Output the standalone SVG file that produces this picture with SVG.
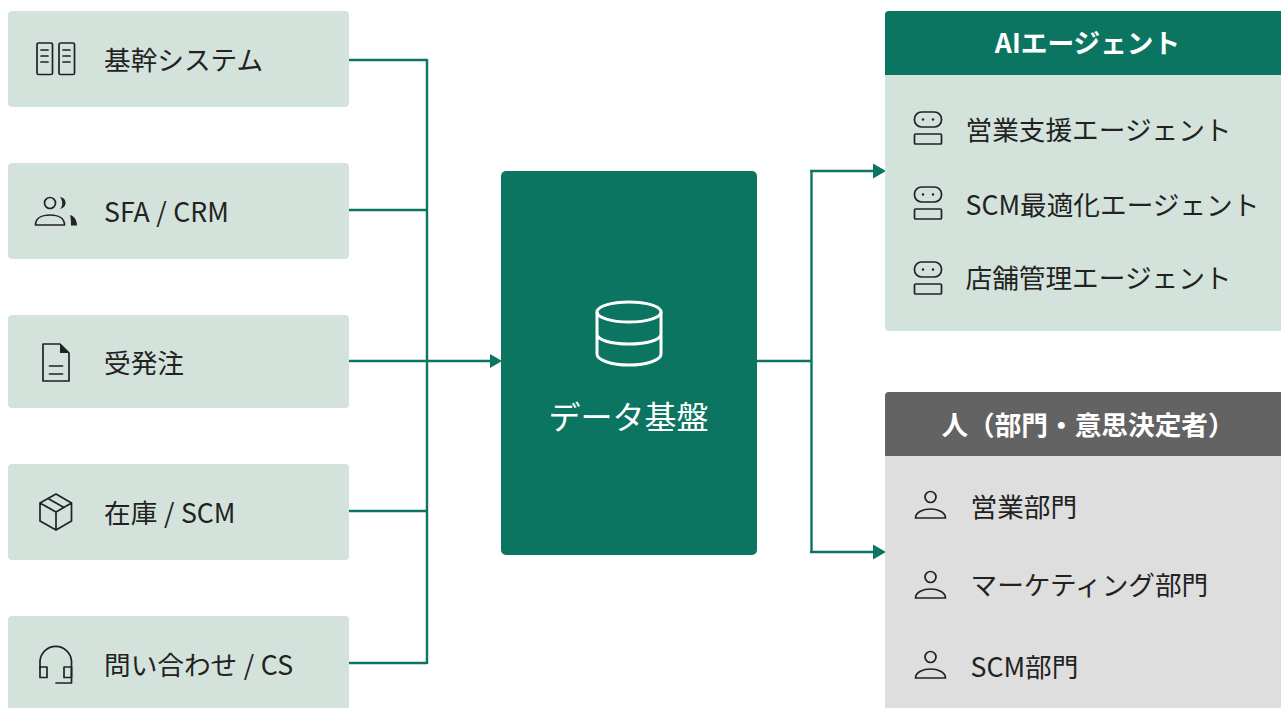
<svg xmlns="http://www.w3.org/2000/svg" width="1281" height="708" viewBox="0 0 1281 708">
<style>
text{font-family:"Noto Sans CJK JP","Noto Sans",sans-serif;font-size:26.67px;fill:#222;word-spacing:0.6px}
.box{fill:#d4e2dc}
.ic{fill:none;stroke:#222;stroke-width:1.700;stroke-linejoin:round;stroke-linecap:round}
.k{fill:#222;stroke:none}
.w{fill:#fff;font-weight:700;text-anchor:middle}
.c{fill:none;stroke:#0b7561;stroke-width:2.400}
.a{fill:#0b7561}
</style>
<defs>
<g id="bot" class="ic"><rect x="-13.500" y="-18" width="27" height="15" rx="7"/><rect x="-13.500" y="4" width="27" height="10" rx="1"/><circle class="k" cx="-5" cy="-10.500" r="1.200"/><circle class="k" cx="5" cy="-10.500" r="1.200"/></g>
<g id="person" class="ic"><circle cx="0" cy="-10" r="5.500"/><path d="M-15 11C-15 5-7 2 0 2S15 5 15 11Z"/></g>
</defs>
<g id="connectors">
<path class="c" d="M349 60H427M349 210H427M349 361H490M349 511H427M349 663H427M427 59V664M757 361H811.500M811.500 171V552M810 171H873M810 552H873"/>
<path class="a" d="M490 354L502 361L490 368ZM873 163.500L886 171L873 178.500ZM873 544.500L886 552L873 559.500Z"/>
</g>
<g id="node-kikan"><rect class="box" x="8" y="11" width="341" height="96" rx="4"/>
<g class="ic"><rect x="37" y="43" width="15.500" height="31.500" rx="1.500"/><rect x="59" y="43" width="15.500" height="31.500" rx="1.500"/><path d="M41 50H48M41 56H48M41 62H48M63 50H70M63 56H70M63 62H70"/></g>
<text x="104" y="69.500">基幹システム</text></g>
<g id="node-sfa"><rect class="box" x="8" y="163" width="341" height="96" rx="4"/>
<g class="ic"><circle cx="50" cy="203" r="5.500"/><path d="M35.500 225C35.500 218 42 215 50 215S64.500 218 64.500 225Z"/></g>
<path class="k" d="M60 197C67 198 68 207 60 209C63 206 63 201 60 197ZM70 215C74 216 77 220 77 225.500H71C71 222 71 219 70 215Z"/>
<text x="104" y="222">SFA / CRM</text></g>
<g id="node-order"><rect class="box" x="8" y="315" width="341" height="93" rx="4"/>
<g class="ic"><path d="M43 344H60L69 353V381H43Z"/><path d="M49.500 366H62.500M49.500 374H62.500"/></g>
<path class="k" d="M60 344L69 353H60Z"/>
<text x="104" y="373">受発注</text></g>
<g id="node-stock"><rect class="box" x="8" y="464" width="341" height="96" rx="4"/>
<g class="ic"><path d="M56 494L71.500 503V521L56 530L40 521V503ZM40 503L56 512L71.500 503M56 512V530M48 498.500L64 507.500"/></g>
<text x="104" y="523">在庫 / SCM</text></g>
<g id="node-cs"><rect class="box" x="8" y="616" width="341" height="100" rx="4"/>
<g class="ic"><path d="M40 668V661A15.800 15.800 0 0 1 71.500 661V683H56"/><rect x="40" y="667" width="7" height="10.500"/><rect x="64" y="667" width="7.500" height="10.500"/></g>
<text x="104" y="675">問い合わせ / CS</text></g>
<g id="node-data"><rect x="501" y="171" width="256" height="384" rx="5" fill="#0b7561"/>
<g fill="none" stroke="#fff" stroke-width="3"><ellipse cx="629" cy="312" rx="32" ry="10"/><path d="M597 312V354C597 360 611 365 629 365S661 360 661 354V312M597 334C597 340 611 344 629 344S661 340 661 334"/></g>
<text x="628.500" y="429" style="fill:#fff;text-anchor:middle;font-size:32px">データ基盤</text></g>
<g id="node-agents"><path class="box" d="M889 11H1281V331H889A4 4 0 0 1 885 327V15A4 4 0 0 1 889 11Z"/>
<path d="M889 11H1281V75H885V15A4 4 0 0 1 889 11Z" fill="#0b7561"/>
<text class="w" x="1087.500" y="53">AIエージェント</text>
<use href="#bot" x="928" y="130"/><text x="965.500" y="140">営業支援エージェント</text>
<use href="#bot" x="928" y="205"/><text x="965.500" y="215">SCM最適化エージェント</text>
<use href="#bot" x="928" y="280"/><text x="965.500" y="288">店舗管理エージェント</text></g>
<g id="node-people"><path d="M889 392H1281V716H885V396A4 4 0 0 1 889 392Z" fill="#dedede"/>
<path d="M889 392H1281V456H885V396A4 4 0 0 1 889 392Z" fill="#636363"/>
<text class="w" x="1088" y="435">人（部門・意思決定者）</text>
<use href="#person" x="930.500" y="507"/><text x="970.500" y="517">営業部門</text>
<use href="#person" x="930.500" y="587"/><text x="970.500" y="595">マーケティング部門</text>
<use href="#person" x="930.500" y="667"/><text x="970.500" y="677">SCM部門</text></g>
</svg>
